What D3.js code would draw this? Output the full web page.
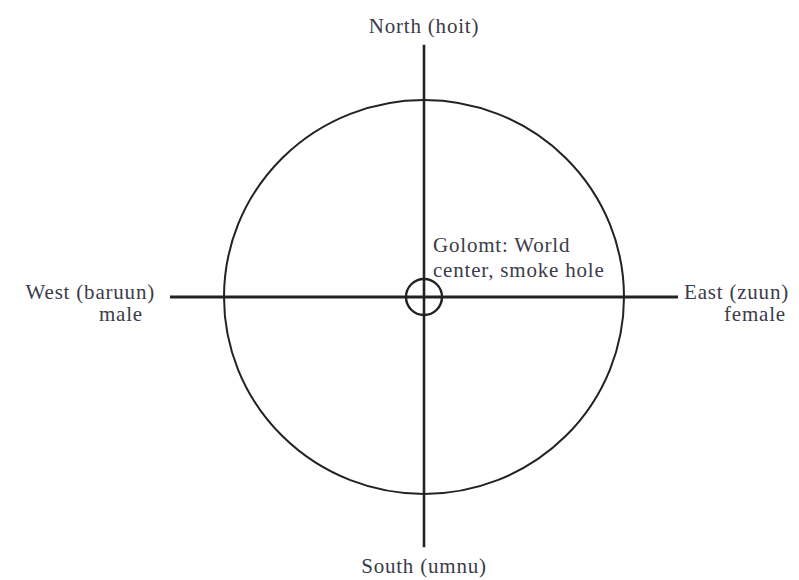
<!DOCTYPE html>
<html>
<head>
<meta charset="utf-8">
<script src="https://cdn.jsdelivr.net/npm/d3@7"></script>
<style>
  body { margin: 0; background: #fff; }
  text { font-family: "Liberation Serif", "Times New Roman", serif; font-size: 21px; fill: #3b3b4a; letter-spacing: 0.8px; }
</style>
</head>
<body>
<div id="chart"></div>
<script>
// Compass directions (N, S, W, E) and what each side stands for
const directions = ["North (hoit)", "South (umnu)", "West (baruun)", "East (zuun)"];
const sideNotes  = ["", "", "male", "female"];
// Arm length of each direction, in units of the yurt circle radius
const armLength  = [1.28, 1.27, 1.27, 1.27];
// Unit vectors of the four arms
const armDirX    = [0, 0, -1, 1];
const armDirY    = [1, -1, 0, 0];
// Centre of the yurt
const centerNote = ["Golomt: World", "center, smoke hole"];
const hubRadius  = 0.09;

const width = 799, height = 580;

const svg = d3.select("#chart")
  .append("svg")
  .attr("width", width)
  .attr("height", height);

// unit circle -> pixels
const x = d3.scaleLinear().domain([-1, 1]).range([224, 624]);
const y = d3.scaleLinear().domain([-1, 1]).range([494, 100]);

// Yurt outline
svg.append("ellipse")
  .attr("cx", x(0)).attr("cy", y(0))
  .attr("rx", x(1) - x(0)).attr("ry", y(-1) - y(0))
  .attr("fill", "none")
  .attr("stroke", "#222")
  .attr("stroke-width", 2);

// Cross arms: vertical (N-S) and horizontal (W-E)
svg.append("line")
  .attr("x1", x(0)).attr("y1", y(armLength[0]))
  .attr("x2", x(0)).attr("y2", y(-armLength[1]))
  .attr("stroke", "#222").attr("stroke-width", 2.6);

svg.append("line")
  .attr("x1", x(-armLength[2])).attr("y1", y(0))
  .attr("x2", x(armLength[3])).attr("y2", y(0))
  .attr("stroke", "#222").attr("stroke-width", 3.2);

// Smoke hole
svg.append("circle")
  .attr("cx", x(0)).attr("cy", y(0))
  .attr("r", x(hubRadius) - x(0))
  .attr("fill", "none")
  .attr("stroke", "#222")
  .attr("stroke-width", 2.4);

// Direction labels
const labels = svg.append("g").attr("class", "labels")
  .selectAll("g")
  .data(directions.map((d, i) => ({
    name: d, note: sideNotes[i],
    ex: x(armDirX[i] * armLength[i]), ey: y(armDirY[i] * armLength[i]),
    dx: armDirX[i], dy: armDirY[i]
  })))
  .join("g");

labels.append("text")
  .attr("text-anchor", d => d.dx < 0 ? "end" : d.dx > 0 ? "start" : "middle")
  .attr("x", d => d.dx < 0 ? d.ex - 15 : d.dx > 0 ? d.ex + 6 : d.ex)
  .attr("y", d => d.dy > 0 ? d.ey - 12 : d.dy < 0 ? d.ey + 26 : d.ey + 2)
  .text(d => d.name);

labels.filter(d => d.note !== "")
  .append("text")
  .attr("text-anchor", "middle")
  .attr("x", d => d.dx < 0 ? d.ex - 49 : d.ex + 77)
  .attr("y", d => d.ey + 24)
  .text(d => d.note);

// Centre note
svg.append("text")
  .attr("x", x(0) + 9)
  .attr("y", y(0) - 45)
  .selectAll("tspan")
  .data(centerNote)
  .join("tspan")
  .attr("x", x(0) + 9)
  .attr("dy", (d, i) => i === 0 ? 0 : 25)
  .text(d => d);
</script>
</body>
</html>
